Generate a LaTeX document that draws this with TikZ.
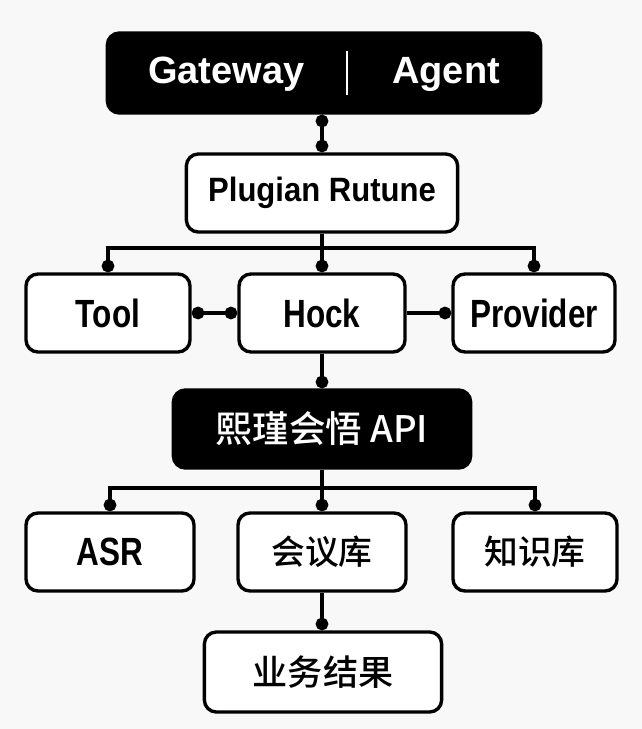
\documentclass[tikz,border=0pt]{standalone}
\usepackage{fontspec}
\usetikzlibrary{arrows.meta}
\newfontfamily\lab{Liberation Sans}
\newfontfamily\labm{Liberation Sans}[FakeStretch=0.92]
\newfontfamily\labn{Liberation Sans}[FakeStretch=0.8]
\newfontfamily\cjk{Noto Sans CJK SC}[UprightFont={* Medium}]
\definecolor{paper}{RGB}{248,248,248}
\tikzset{
  darkbox/.style={draw=black, fill=black, text=white, rounded corners=0.3cm, line width=2.4pt, inner sep=0pt},
  lightbox/.style={draw=black, fill=white, rounded corners=0.3cm, line width=2.4pt, inner sep=0pt},
  wire/.style={line width=2.4pt},
  dotend/.style={-{Circle[length=9pt]}},
  dotboth/.style={{Circle[length=9pt]}-{Circle[length=9pt]}},
}
\begin{document}
\begin{tikzpicture}[x=0.025cm, y=-0.025cm]
    \fill[paper] (0,0) rectangle (642,729);
    \useasboundingbox (0,0) rectangle (642,729);
    % Boxes
    \node[darkbox, minimum width=10.83cm, minimum height=2cm] (gw) at (324,73)
        {\fontsize{27}{32}\lab\bfseries Gateway\hspace{1.05cm}\rule[-0.3cm]{0.05cm}{1.12cm}\hspace{1.1cm}Agent};
    \node[lightbox, minimum width=6.78cm, minimum height=1.95cm] (plugin) at (322,193)
        {\fontsize{24}{29}\labm\bfseries Plugian Rutune};
    \node[lightbox, minimum width=4.1cm, minimum height=1.95cm] (tool) at (108,313)
        {\fontsize{28}{33}\labn\bfseries Tool};
    \node[lightbox, minimum width=4.15cm, minimum height=1.95cm] (hock) at (322,313)
        {\fontsize{28}{33}\labn\bfseries Hock};
    \node[lightbox, minimum width=4.05cm, minimum height=1.95cm] (provider) at (534,313)
        {\fontsize{28}{33}\labn\bfseries Provider};
    \node[darkbox, minimum width=7.43cm, minimum height=1.95cm] (api) at (322,429)
        {\fontsize{26}{31}\cjk 熙瑾会悟 API};
    \node[lightbox, minimum width=4.2cm, minimum height=1.95cm] (asr) at (110,552)
        {\fontsize{28}{33}\labn\bfseries ASR};
    \node[lightbox, minimum width=4.2cm, minimum height=1.95cm] (meet) at (322,552)
        {\fontsize{24}{29}\cjk 会议库};
    \node[lightbox, minimum width=4.1cm, minimum height=1.95cm] (know) at (535,552)
        {\fontsize{24}{29}\cjk 知识库};
    \node[lightbox, minimum width=5.93cm, minimum height=2cm] (result) at (323,672)
        {\fontsize{25}{30}\cjk 业务结果};
    % Connectors
    \coordinate (bus1) at (322,248);
    \coordinate (bus2) at (322,488);
    \draw[wire, dotboth] (plugin.north |- gw.south) -- (plugin.north);
    \draw[wire] (plugin.south) -- (bus1);
    \draw[wire, dotend] (bus1) -| (tool.north);
    \draw[wire, dotend] (bus1) -- (hock.north);
    \draw[wire, dotend] (bus1) -| (provider.north);
    \draw[wire, dotboth] (tool) -- (hock);
    \draw[wire, dotend] (hock) -- (provider);
    \draw[wire, dotend] (hock.south) -- (api.north);
    \draw[wire] (api.south) -- (bus2);
    \draw[wire, dotend] (bus2) -| (asr.north);
    \draw[wire, dotend] (bus2) -- (meet.north);
    \draw[wire, dotend] (bus2) -| (know.north);
    \draw[wire, dotend] (meet.south) -- (meet.south |- result.north);
\end{tikzpicture}
\end{document}
